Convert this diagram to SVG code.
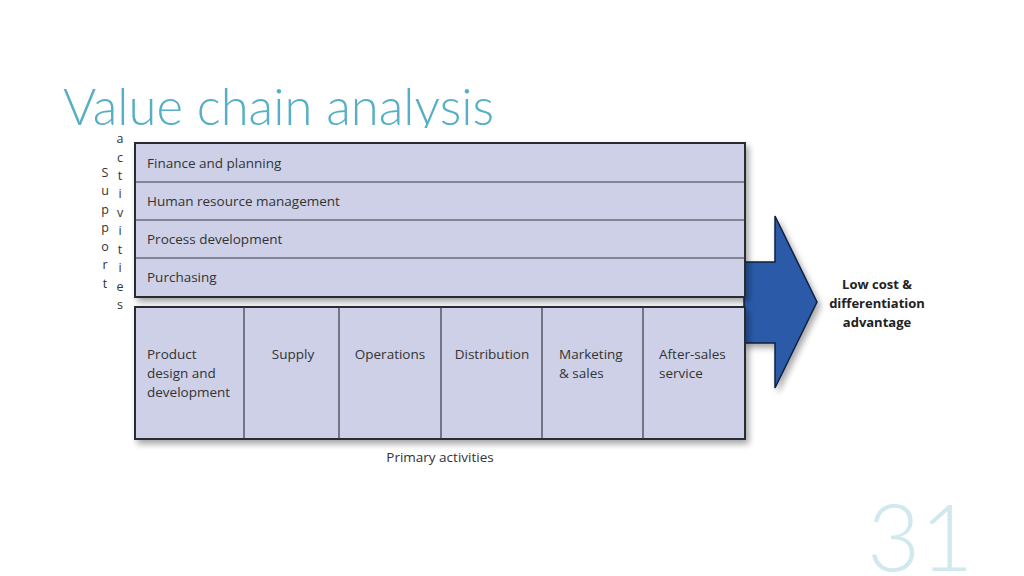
<svg xmlns="http://www.w3.org/2000/svg" width="1024" height="576" viewBox="0 0 1024 576">
<defs>
<style>
.box{fill:#cdd0e6;stroke:#2b2b33;stroke-width:2}
.div{stroke:#3a3a44;stroke-width:1.2}
.lbl{font-family:"Open Sans","Noto Sans",sans-serif;font-size:13.5px;fill:#333}
.vt{font-family:"Open Sans","Noto Sans",sans-serif;font-size:12.5px;fill:#333;text-anchor:middle}
.out{font-family:"Open Sans","Noto Sans",sans-serif;font-size:13px;font-weight:bold;fill:#222;text-anchor:middle}
</style>
<filter id="sh" x="-10%" y="-10%" width="130%" height="140%">
<feGaussianBlur in="SourceAlpha" stdDeviation="3"/>
<feOffset dx="3" dy="4" result="b"/>
<feComponentTransfer><feFuncA type="linear" slope="0.35"/></feComponentTransfer>
<feMerge><feMergeNode/><feMergeNode in="SourceGraphic"/></feMerge>
</filter>
</defs>
<rect width="1024" height="576" fill="#fff"/>
<text x="63" y="125" font-family="Lato,'Open Sans',sans-serif" font-weight="300" font-size="50.8" fill="#56afc4">Value chain analysis</text>
<rect x="80" y="128" width="880" height="345" fill="#fff"/>
<text x="867" y="571" font-family="Lato,'Open Sans',sans-serif" font-weight="300" font-size="92" fill="#d2e8ef">31</text>

<g id="arrow">
<polygon points="744,262 775,262 775,216 817,302 775,388 775,343 744,343" fill="#2a5aa8" stroke="#10203f" stroke-width="1.5" filter="url(#sh)"/>
</g>

<g id="support">
<rect class="box" x="135" y="143" width="610" height="154" filter="url(#sh)"/>
<line class="div" x1="135" y1="182" x2="745" y2="182"/>
<line class="div" x1="135" y1="220" x2="745" y2="220"/>
<line class="div" x1="135" y1="258" x2="745" y2="258"/>
<g id="finance"><text class="lbl" x="147" y="168">Finance and planning</text></g>
<g id="hrm"><text class="lbl" x="147" y="206">Human resource management</text></g>
<g id="process"><text class="lbl" x="147" y="244">Process development</text></g>
<g id="purchasing"><text class="lbl" x="147" y="282">Purchasing</text></g>
</g>

<g id="primary">
<rect class="box" x="135" y="307" width="610" height="132" filter="url(#sh)"/>
<line class="div" x1="244" y1="307" x2="244" y2="439"/>
<line class="div" x1="339" y1="307" x2="339" y2="439"/>
<line class="div" x1="441" y1="307" x2="441" y2="439"/>
<line class="div" x1="542" y1="307" x2="542" y2="439"/>
<line class="div" x1="643" y1="307" x2="643" y2="439"/>
<g id="product"><text class="lbl" x="147" y="359">Product</text><text class="lbl" x="147" y="378">design and</text><text class="lbl" x="147" y="397">development</text></g>
<g id="supply"><text class="lbl" x="293" y="359" text-anchor="middle">Supply</text></g>
<g id="operations"><text class="lbl" x="390" y="359" text-anchor="middle">Operations</text></g>
<g id="distribution"><text class="lbl" x="492" y="359" text-anchor="middle">Distribution</text></g>
<g id="marketing"><text class="lbl" x="559" y="359">Marketing</text><text class="lbl" x="559" y="378">&amp; sales</text></g>
<g id="aftersales"><text class="lbl" x="659" y="359">After-sales</text><text class="lbl" x="659" y="378">service</text></g>
</g>

<g id="support-label">
<text class="vt" x="105" y="177">S</text>
<text class="vt" x="105" y="195">u</text>
<text class="vt" x="105" y="214">p</text>
<text class="vt" x="105" y="232">p</text>
<text class="vt" x="105" y="251">o</text>
<text class="vt" x="105" y="269">r</text>
<text class="vt" x="105" y="288">t</text>
<text class="vt" x="120" y="143">a</text>
<text class="vt" x="120" y="162">c</text>
<text class="vt" x="120" y="180">t</text>
<text class="vt" x="120" y="198">i</text>
<text class="vt" x="120" y="217">v</text>
<text class="vt" x="120" y="235">i</text>
<text class="vt" x="120" y="254">t</text>
<text class="vt" x="120" y="272">i</text>
<text class="vt" x="120" y="291">e</text>
<text class="vt" x="120" y="309">s</text>
</g>

<g id="primary-label"><text class="lbl" x="440" y="462" text-anchor="middle" font-size="13">Primary activities</text></g>

<g id="outcome">
<text class="out" x="877" y="289">Low cost &amp;</text>
<text class="out" x="877" y="308">differentiation</text>
<text class="out" x="877" y="327">advantage</text>
</g>
</svg>
